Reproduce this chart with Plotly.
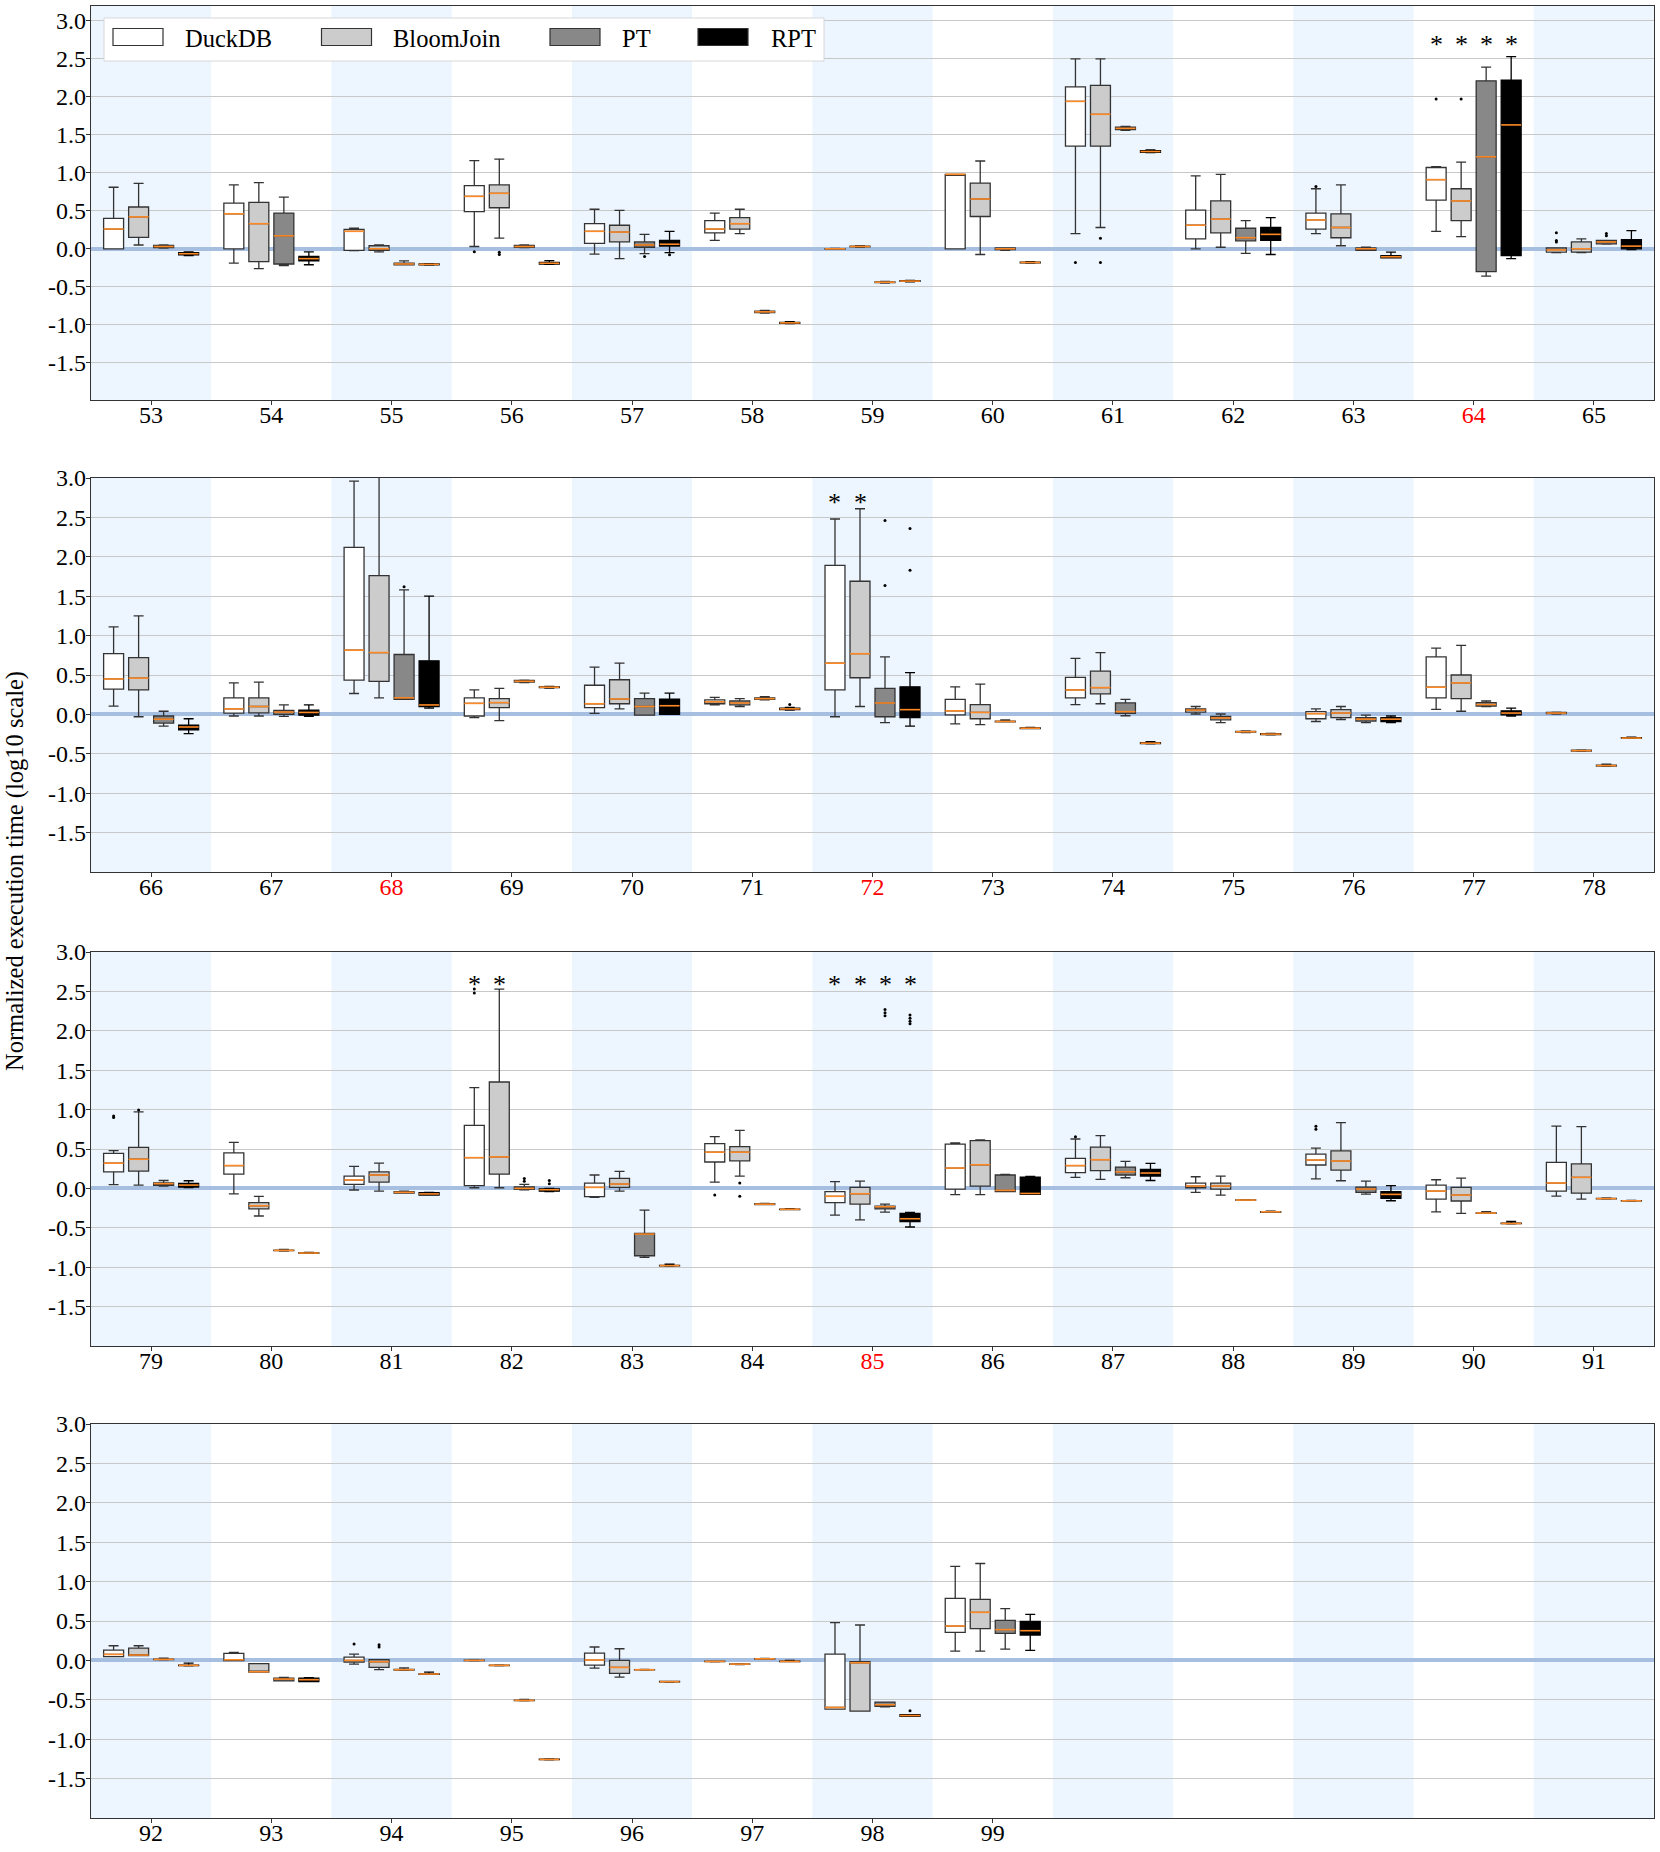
import plotly.graph_objects as go

# ---------------------------------------------------------------- data
SERIES = ["DuckDB", "BloomJoin", "PT", "RPT"]

LABELS_P1 = ["53", "54", "55", "56", "57", "58", "59", "60", "61", "62", "63", "64", "65"]
LABELS_P2 = ["66", "67", "68", "69", "70", "71", "72", "73", "74", "75", "76", "77", "78"]
LABELS_P3 = ["79", "80", "81", "82", "83", "84", "85", "86", "87", "88", "89", "90", "91"]
LABELS_P4 = ["92", "93", "94", "95", "96", "97", "98", "99"]
HIGHLIGHT = ["64", "68", "72", "85"]

# each entry: (lower whisker, Q1, median, Q3, upper whisker), log10 normalized time
DUCKDB_P1 = [(0.0, 0.0, 0.26, 0.40, 0.81), (-0.19, 0.0, 0.46, 0.60, 0.84), (-0.025, -0.02, 0.23, 0.255, 0.27),
             (0.03, 0.49, 0.69, 0.83, 1.16), (-0.07, 0.07, 0.23, 0.33, 0.52), (0.11, 0.21, 0.26, 0.37, 0.47),
             (-0.005, -0.003, 0.0, 0.003, 0.005), (0.0, 0.0, 0.98, 0.98, 0.98), (0.20, 1.35, 1.94, 2.13, 2.50),
             (0.0, 0.13, 0.31, 0.51, 0.96), (0.20, 0.26, 0.38, 0.47, 0.79), (0.23, 0.64, 0.91, 1.07, 1.08),
             (-0.05, -0.045, -0.015, 0.01, 0.01)]
BLOOM_P1 = [(0.05, 0.15, 0.42, 0.55, 0.86), (-0.26, -0.17, 0.33, 0.61, 0.87), (-0.04, -0.02, 0.0, 0.04, 0.05),
            (0.14, 0.54, 0.73, 0.84, 1.18), (-0.13, 0.09, 0.22, 0.31, 0.505), (0.20, 0.26, 0.33, 0.41, 0.52),
            (0.02, 0.025, 0.03, 0.035, 0.04), (-0.075, 0.425, 0.655, 0.865, 1.155), (0.28, 1.35, 1.77, 2.15, 2.50),
            (0.02, 0.21, 0.39, 0.63, 0.98), (0.04, 0.145, 0.28, 0.46, 0.84), (0.16, 0.37, 0.63, 0.79, 1.14),
            (-0.05, -0.045, 0.0, 0.09, 0.13)]
PT_P1 = [(0.01, 0.015, 0.03, 0.045, 0.05), (-0.22, -0.20, 0.17, 0.47, 0.68), (-0.21, -0.21, -0.20, -0.19, -0.16),
         (0.015, 0.02, 0.03, 0.045, 0.05), (-0.065, 0.02, 0.05, 0.09, 0.19), (-0.845, -0.84, -0.83, -0.82, -0.81),
         (-0.45, -0.445, -0.44, -0.435, -0.43), (-0.02, -0.01, 0.0, 0.01, 0.01), (1.56, 1.57, 1.585, 1.60, 1.61),
         (-0.06, 0.105, 0.145, 0.27, 0.37), (-0.02, -0.02, 0.0, 0.01, 0.02), (-0.36, -0.30, 1.21, 2.21, 2.39),
         (0.06, 0.065, 0.09, 0.11, 0.11)]
RPT_P1 = [(-0.09, -0.08, -0.065, -0.05, -0.04), (-0.21, -0.16, -0.13, -0.10, -0.04), (-0.215, -0.21, -0.205, -0.20, -0.195),
          (-0.205, -0.20, -0.19, -0.18, -0.155), (-0.05, 0.035, 0.06, 0.11, 0.23), (-0.985, -0.98, -0.975, -0.97, -0.96),
          (-0.435, -0.43, -0.425, -0.42, -0.415), (-0.19, -0.185, -0.18, -0.175, -0.17), (1.265, 1.27, 1.28, 1.29, 1.30),
          (-0.075, 0.11, 0.19, 0.28, 0.41), (-0.12, -0.12, -0.105, -0.09, -0.045), (-0.13, -0.09, 1.63, 2.22, 2.53),
          (-0.01, 0.0, 0.035, 0.12, 0.24)]

DUCKDB_P2 = [(0.105, 0.32, 0.45, 0.77, 1.11), (-0.02, 0.017, 0.07, 0.21, 0.40), (0.265, 0.435, 0.815, 2.12, 2.96),
             (-0.04, -0.02, 0.14, 0.21, 0.31), (0.013, 0.085, 0.135, 0.37, 0.60), (0.12, 0.135, 0.16, 0.185, 0.215),
             (-0.03, 0.31, 0.65, 1.89, 2.48), (-0.12, -0.005, 0.045, 0.19, 0.35), (0.125, 0.21, 0.31, 0.47, 0.71),
             (0.005, 0.03, 0.055, 0.07, 0.10), (-0.09, -0.055, 0.01, 0.035, 0.07), (0.065, 0.21, 0.345, 0.73, 0.84),
             (0.005, 0.01, 0.017, 0.025, 0.03)]
BLOOM_P2 = [(-0.03, 0.31, 0.46, 0.72, 1.25), (-0.02, 0.02, 0.10, 0.21, 0.41), (0.21, 0.42, 0.785, 1.76, 3.1),
            (-0.08, 0.085, 0.15, 0.20, 0.33), (0.07, 0.135, 0.195, 0.44, 0.65), (0.10, 0.12, 0.145, 0.17, 0.20),
            (0.10, 0.465, 0.77, 1.69, 2.61), (-0.13, -0.055, 0.025, 0.125, 0.385), (0.135, 0.26, 0.34, 0.55, 0.785),
            (-0.105, -0.07, -0.045, -0.025, 0.005), (-0.065, -0.04, 0.017, 0.06, 0.10), (0.04, 0.20, 0.40, 0.50, 0.875),
            (-0.47, -0.465, -0.46, -0.455, -0.45)]
PT_P2 = [(-0.15, -0.11, -0.06, -0.02, 0.04), (-0.025, 0.0, 0.03, 0.05, 0.12), (0.19, 0.19, 0.21, 0.76, 1.58),
         (0.405, 0.41, 0.42, 0.43, 0.435), (-0.01, -0.01, 0.10, 0.20, 0.27), (0.185, 0.19, 0.20, 0.21, 0.225),
         (-0.105, -0.03, 0.145, 0.33, 0.73), (-0.095, -0.095, -0.09, -0.085, -0.07), (-0.017, 0.013, 0.035, 0.145, 0.19),
         (-0.23, -0.225, -0.22, -0.215, -0.21), (-0.105, -0.085, -0.06, -0.04, -0.01), (0.10, 0.105, 0.125, 0.15, 0.17),
         (-0.66, -0.655, -0.65, -0.645, -0.63)]
RPT_P2 = [(-0.245, -0.195, -0.16, -0.135, -0.055), (-0.025, -0.01, 0.025, 0.055, 0.12), (0.08, 0.10, 0.12, 0.68, 1.50),
          (0.335, 0.34, 0.345, 0.35, 0.355), (0.0, 0.0, 0.11, 0.195, 0.27), (0.055, 0.06, 0.07, 0.08, 0.09),
          (-0.15, -0.04, 0.06, 0.35, 0.53), (-0.18, -0.18, -0.175, -0.17, -0.165), (-0.375, -0.37, -0.365, -0.36, -0.345),
          (-0.26, -0.255, -0.25, -0.245, -0.24), (-0.105, -0.09, -0.06, -0.04, -0.02), (-0.02, -0.005, 0.017, 0.045, 0.08),
          (-0.305, -0.30, -0.30, -0.295, -0.29)]

DUCKDB_P3 = [(0.047, 0.21, 0.32, 0.445, 0.48), (-0.07, 0.18, 0.29, 0.45, 0.585), (-0.02, 0.05, 0.106, 0.157, 0.28),
             (0.008, 0.034, 0.39, 0.80, 1.28), (-0.115, -0.105, 0.013, 0.068, 0.17), (0.08, 0.335, 0.46, 0.568, 0.657),
             (-0.34, -0.18, -0.10, -0.04, 0.085), (-0.08, -0.008, 0.258, 0.563, 0.576), (0.14, 0.20, 0.29, 0.38, 0.627),
             (-0.05, 0.008, 0.03, 0.068, 0.148), (0.12, 0.297, 0.36, 0.436, 0.51), (-0.297, -0.136, -0.034, 0.042, 0.11),
             (-0.097, -0.034, 0.068, 0.33, 0.79)]
BLOOM_P3 = [(0.042, 0.22, 0.37, 0.52, 0.97), (-0.35, -0.26, -0.22, -0.18, -0.10), (-0.035, 0.08, 0.17, 0.21, 0.32),
            (0.008, 0.18, 0.40, 1.35, 2.53), (-0.034, 0.013, 0.055, 0.127, 0.215), (0.157, 0.35, 0.46, 0.53, 0.737),
            (-0.40, -0.20, -0.068, 0.013, 0.093), (-0.08, 0.03, 0.30, 0.606, 0.614), (0.114, 0.225, 0.364, 0.525, 0.67),
            (-0.085, -0.008, 0.03, 0.068, 0.157), (0.097, 0.233, 0.347, 0.475, 0.835), (-0.318, -0.16, -0.085, 0.013, 0.13),
            (-0.136, -0.06, 0.14, 0.31, 0.784)]
PT_P3 = [(0.03, 0.04, 0.06, 0.07, 0.10), (-0.795, -0.79, -0.787, -0.783, -0.775), (-0.06, -0.06, -0.05, -0.04, -0.035),
         (-0.017, -0.013, 0.0, 0.02, 0.05), (-0.875, -0.855, -0.58, -0.57, -0.275), (-0.205, -0.205, -0.2, -0.195, -0.19),
         (-0.30, -0.26, -0.233, -0.225, -0.20), (-0.04, -0.04, -0.025, 0.17, 0.178), (0.135, 0.17, 0.21, 0.27, 0.343),
         (-0.152, -0.15, -0.148, -0.145, -0.143), (-0.072, -0.05, -0.008, 0.017, 0.093), (-0.318, -0.316, -0.313, -0.31, -0.295),
         (-0.135, -0.133, -0.13, -0.127, -0.12)]
RPT_P3 = [(0.01, 0.017, 0.042, 0.064, 0.097), (-0.825, -0.822, -0.82, -0.817, -0.812), (-0.085, -0.085, -0.07, -0.055, -0.05),
          (-0.04, -0.035, -0.017, -0.005, 0.0), (-0.985, -0.983, -0.98, -0.977, -0.96), (-0.27, -0.268, -0.265, -0.262, -0.258),
          (-0.49, -0.42, -0.385, -0.318, -0.305), (-0.076, -0.076, -0.064, 0.144, 0.152), (0.10, 0.157, 0.195, 0.24, 0.318),
          (-0.302, -0.3, -0.297, -0.294, -0.29), (-0.157, -0.127, -0.076, -0.042, 0.034), (-0.45, -0.448, -0.445, -0.442, -0.42),
          (-0.16, -0.159, -0.157, -0.155, -0.152)]

DUCKDB_P4 = [(0.047, 0.047, 0.076, 0.13, 0.186), (-0.004, -0.004, 0.008, 0.09, 0.10), (-0.047, -0.02, 0.0, 0.042, 0.08),
             (-0.005, -0.003, 0.0, 0.003, 0.005), (-0.097, -0.06, 0.004, 0.093, 0.17), (-0.018, -0.016, -0.013, -0.01, -0.008),
             (-0.618, -0.618, -0.597, 0.08, 0.48), (0.118, 0.355, 0.436, 0.787, 1.193)]
BLOOM_P4 = [(0.06, 0.06, 0.068, 0.157, 0.186), (-0.148, -0.148, -0.144, -0.042, -0.04), (-0.118, -0.089, -0.017, 0.008, 0.008),
            (-0.068, -0.066, -0.063, -0.06, -0.058), (-0.212, -0.165, -0.089, 0.0, 0.148), (-0.052, -0.05, -0.047, -0.044, -0.04),
            (-0.643, -0.643, -0.03, -0.017, 0.449), (0.118, 0.402, 0.61, 0.774, 1.23)]
PT_P4 = [(0.008, 0.01, 0.013, 0.016, 0.03), (-0.26, -0.26, -0.237, -0.225, -0.215), (-0.125, -0.122, -0.118, -0.114, -0.095),
         (-0.512, -0.51, -0.508, -0.506, -0.495), (-0.122, -0.12, -0.118, -0.116, -0.114), (0.015, 0.017, 0.02, 0.023, 0.025),
         (-0.59, -0.584, -0.563, -0.529, -0.529), (0.144, 0.343, 0.39, 0.508, 0.656)]
RPT_P4 = [(-0.068, -0.066, -0.063, -0.06, -0.035), (-0.27, -0.27, -0.245, -0.225, -0.22), (-0.178, -0.176, -0.173, -0.17, -0.15),
          (-1.262, -1.26, -1.257, -1.254, -1.25), (-0.274, -0.272, -0.27, -0.268, -0.266), (-0.016, -0.015, -0.013, -0.011, 0.0),
          (-0.71, -0.71, -0.70, -0.69, -0.69), (0.127, 0.322, 0.377, 0.495, 0.584)]

# outlier points: (query label, series index, value)
OUTLIERS = [("56", 0, -0.04), ("56", 1, -0.045), ("56", 1, -0.075), ("57", 2, -0.10), ("57", 3, -0.08),
            ("61", 0, -0.18), ("61", 1, 0.14), ("61", 1, -0.18), ("63", 0, 0.82), ("64", 0, 1.97), ("64", 1, 1.97),
            ("65", 0, 0.21), ("65", 0, 0.11), ("65", 0, 0.09), ("65", 2, 0.20), ("65", 2, 0.17),
            ("68", 2, 1.62), ("71", 3, 0.127), ("72", 2, 2.46), ("72", 2, 1.635), ("72", 3, 2.36), ("72", 3, 1.83),
            ("79", 0, 0.92), ("79", 0, 0.90), ("79", 1, 0.995), ("82", 0, 2.53), ("82", 0, 2.48),
            ("82", 2, 0.127), ("82", 2, 0.09), ("82", 3, 0.10), ("82", 3, 0.06), ("84", 0, -0.085),
            ("84", 1, 0.068), ("84", 1, -0.10), ("85", 2, 2.27), ("85", 2, 2.23), ("85", 2, 2.19),
            ("85", 3, 2.20), ("85", 3, 2.16), ("85", 3, 2.12), ("85", 3, 2.09), ("87", 0, 0.657),
            ("89", 0, 0.79), ("89", 0, 0.75), ("94", 0, 0.207), ("94", 1, 0.20), ("94", 1, 0.17), ("98", 3, -0.64)]

# asterisk markers: (query label, series index, y position)
STARS = [("64", 0, 2.75), ("64", 1, 2.75), ("64", 2, 2.75), ("64", 3, 2.75),
         ("72", 0, 2.75), ("72", 1, 2.75),
         ("82", 0, 2.65), ("82", 1, 2.65),
         ("85", 0, 2.65), ("85", 1, 2.65), ("85", 2, 2.65), ("85", 3, 2.65)]

Y_TICKS = [-1.5, -1.0, -0.5, 0.0, 0.5, 1.0, 1.5, 2.0, 2.5, 3.0]

# ---------------------------------------------------------------- style
W, H = 1660, 1852
ML, MR, MT, MB = 91, 6, 6, 34
PANEL_TOP_PX = [6, 478, 952, 1424]
PANEL_H_PX = 394
Y_RANGES = [[-1.99, 3.195], [-2.0, 3.0], [-2.0, 3.0], [-2.0, 3.0]]
N_SLOTS = 13
FILLS = ["#FFFFFF", "#CCCCCC", "#888888", "#000000"]
EDGES = ["#333333", "#333333", "#333333", "#000000"]
OFFSETS = [-0.312, -0.104, 0.104, 0.312]
BOX_W = 0.166
MEDIAN_COLOR = "#FF8A25"
BAND_COLOR = "rgb(237,245,254)"
FONT = "Liberation Serif"
TICK_SIZE = 24

PANELS = [
    (LABELS_P1, [DUCKDB_P1, BLOOM_P1, PT_P1, RPT_P1]),
    (LABELS_P2, [DUCKDB_P2, BLOOM_P2, PT_P2, RPT_P2]),
    (LABELS_P3, [DUCKDB_P3, BLOOM_P3, PT_P3, RPT_P3]),
    (LABELS_P4, [DUCKDB_P4, BLOOM_P4, PT_P4, RPT_P4]),
]

plot_h = H - MT - MB
fig = go.Figure()
layout = {}
shapes = []
annotations = []


def axis_ids(k):
    return ("x" if k == 0 else f"x{k+1}", "y" if k == 0 else f"y{k+1}")


def find(label):
    for k, (labels, _) in enumerate(PANELS):
        if label in labels:
            return k, labels.index(label)
    return None, None


for k, (labels, series_data) in enumerate(PANELS):
    xid, yid = axis_ids(k)
    top = PANEL_TOP_PX[k]
    y1 = (H - MB - top) / plot_h
    y0 = (H - MB - top - PANEL_H_PX) / plot_h
    ticktext = [f'<span style="color:#FF0000">{lb}</span>' if lb in HIGHLIGHT else lb for lb in labels]
    layout["xaxis" if k == 0 else f"xaxis{k+1}"] = dict(
        domain=[0, 1], anchor=yid, range=[-0.5, N_SLOTS - 0.5], automargin=False,
        tickmode="array", tickvals=list(range(len(labels))), ticktext=ticktext,
        ticks="outside", ticklen=4, tickcolor="#333333", ticklabelstandoff=-11,
        tickfont=dict(family=FONT, size=TICK_SIZE, color="black"),
        showgrid=False, zeroline=False, showline=True, mirror=True,
        linecolor="#333333", linewidth=1.3)
    layout["yaxis" if k == 0 else f"yaxis{k+1}"] = dict(
        domain=[y0, y1], anchor=xid, range=Y_RANGES[k], automargin=False,
        tickmode="array", tickvals=Y_TICKS, ticktext=[f"{v:.1f}" for v in Y_TICKS],
        ticks="outside", ticklen=4, tickcolor="#333333", ticklabelstandoff=-5,
        tickfont=dict(family=FONT, size=TICK_SIZE, color="black"),
        showgrid=True, gridcolor="#C8C8C8", gridwidth=1,
        zeroline=True, zerolinecolor="#A6BEE0", zerolinewidth=3.5,
        showline=True, mirror=True, linecolor="#333333", linewidth=1.3)

    # alternating background bands
    for i in range(0, N_SLOTS, 2):
        shapes.append(dict(type="rect", xref=xid, yref=f"{yid} domain",
                           x0=i - 0.5, x1=i + 0.5, y0=0, y1=1,
                           fillcolor=BAND_COLOR, line=dict(width=0), layer="below"))

    for s, stats in enumerate(series_data):
        pos = [i + OFFSETS[s] for i in range(len(stats))]
        fig.add_trace(go.Box(
            x=pos, lowerfence=[t[0] for t in stats], q1=[t[1] for t in stats],
            median=[t[2] for t in stats], q3=[t[3] for t in stats],
            upperfence=[t[4] for t in stats],
            width=BOX_W, whiskerwidth=0.5, fillcolor=FILLS[s],
            line=dict(color=EDGES[s], width=1.3), boxpoints=False,
            name=SERIES[s], showlegend=False, hoverinfo="skip",
            xaxis=xid, yaxis=yid))
        mx, my = [], []
        for p, t in zip(pos, stats):
            mx += [p - BOX_W / 2, p + BOX_W / 2, None]
            my += [t[2], t[2], None]
        fig.add_trace(go.Scatter(x=mx, y=my, mode="lines",
                                 line=dict(color=MEDIAN_COLOR, width=1.6),
                                 showlegend=False, hoverinfo="skip",
                                 xaxis=xid, yaxis=yid))

    ox, oy = [], []
    for lb, s, v in OUTLIERS:
        kk, idx = find(lb)
        if kk == k:
            ox.append(idx + OFFSETS[s])
            oy.append(v)
    if ox:
        fig.add_trace(go.Scatter(x=ox, y=oy, mode="markers",
                                 marker=dict(size=3, color="black"),
                                 showlegend=False, hoverinfo="skip",
                                 xaxis=xid, yaxis=yid))

    for lb, s, yv in STARS:
        kk, idx = find(lb)
        if kk == k:
            annotations.append(dict(x=idx + OFFSETS[s], y=yv, xref=xid, yref=yid,
                                    text="*", showarrow=False, yshift=-5,
                                    font=dict(family=FONT, size=26, color="black"),
                                    xanchor="center", yanchor="middle"))

# ---------------------------------------------------------------- legend (panel 1)
def dx(px):
    return (px - ML) / (W - ML - MR)


def dy(py):
    return (PANEL_TOP_PX[0] + PANEL_H_PX - py) / PANEL_H_PX


shapes.append(dict(type="rect", xref="x domain", yref="y domain",
                   x0=dx(104), x1=dx(824), y0=dy(61), y1=dy(18),
                   fillcolor="white", line=dict(color="#D8D8D8", width=1), layer="above"))
SWATCH_X = [113, 321.5, 550, 698]
TEXT_X = [183, 391, 620, 768.5]
for s in range(4):
    shapes.append(dict(type="rect", xref="x domain", yref="y domain",
                       x0=dx(SWATCH_X[s]), x1=dx(SWATCH_X[s] + 50), y0=dy(45.5), y1=dy(28.5),
                       fillcolor=FILLS[s], line=dict(color="#333333", width=1.2), layer="above"))
    annotations.append(dict(x=dx(TEXT_X[s]), y=dy(38), xref="x domain", yref="y domain",
                            text=SERIES[s], showarrow=False, xanchor="left", yanchor="middle",
                            font=dict(family=FONT, size=24.5, color="black")))

annotations.append(dict(x=(15 - ML) / (W - ML - MR), y=(H - MB - 871) / plot_h,
                        xref="paper", yref="paper", text="Normalized execution time (log10 scale)",
                        textangle=-90, showarrow=False, xanchor="center", yanchor="middle",
                        font=dict(family=FONT, size=24.5, color="black")))

fig.update_layout(**layout)
fig.update_layout(width=W, height=H,
                  margin=dict(l=ML, r=MR, t=MT, b=MB, autoexpand=False),
                  paper_bgcolor="white", plot_bgcolor="white", boxmode="overlay",
                  shapes=shapes, annotations=annotations, showlegend=False)
fig.write_html("out.html", config={"displayModeBar": False},
               post_script="document.body.style.margin='0px';document.body.style.overflow='hidden';")
